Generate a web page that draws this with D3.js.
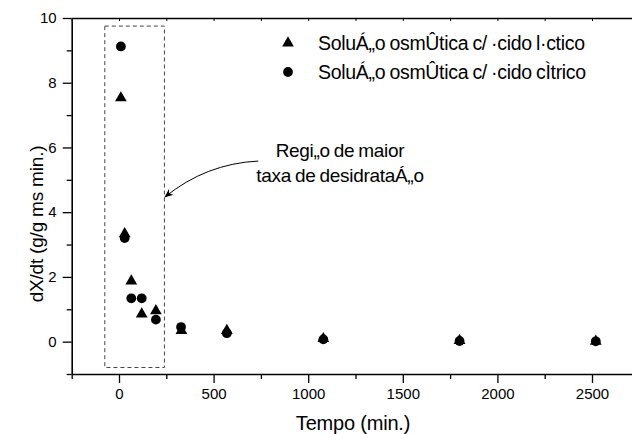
<!DOCTYPE html>
<meta charset="utf-8">
<script src="https://d3js.org/d3.v7.min.js"></script>
<style>
  body { margin: 0; background: #fff; }
  text { font-family: "Liberation Sans", Arial, sans-serif; fill: #000; }
</style>
<div id="my_dataviz"></div>
<script>

// data
var tempoLactico = [10, 30, 65, 120, 195, 330, 570, 1080, 1800, 2520];
var valLactico   = [7.53, 3.33, 1.87, 0.85, 0.95, 0.34, 0.34, 0.09, 0.03, 0.01];
var tempoCitrico = [10, 30, 65, 120, 195, 328, 570, 1080, 1800, 2520];
var valCitrico   = [9.12, 3.2, 1.34, 1.34, 0.68, 0.45, 0.26, 0.07, 0.02, 0.01];
var serieNomes   = ["SoluÁ„o osmÛtica c/ ·cido l·ctico", "SoluÁ„o osmÛtica c/ ·cido cÌtrico"];
var xTicks = [0, 500, 1000, 1500, 2000, 2500];
var yTicks = [0, 2, 4, 6, 8, 10];
var regiao = [-75, 240, -0.8, 9.75];   // x0, x1, y0, y1 of the dashed box
var notaLinhas = ["Regi„o de maior", "taxa de desidrataÁ„o"];

var W = 632, H = 434;
var mLeft = 71.7, mTop = 18, mBottom = 374;

var svg = d3.select("#my_dataviz")
  .append("svg")
    .attr("width", W)
    .attr("height", H);

var x = d3.scaleLinear().domain([-250, 2750]).range([mLeft, mLeft + 3000 * 0.1892]);
var y = d3.scaleLinear().domain([-1, 10]).range([mBottom, mTop]);

// bottom axis: major + minor ticks
svg.append("g")
  .attr("transform", "translate(0," + mBottom + ")")
  .call(d3.axisBottom(x).tickValues(d3.range(-250, 2751, 250).filter(function(d){ return d % 500 != 0; }))
    .tickSize(5).tickFormat(""))
  .call(function(g){ g.select(".domain").remove(); g.selectAll("line").attr("stroke-width", 1.3); });
svg.append("g")
  .attr("transform", "translate(0," + mBottom + ")")
  .call(d3.axisBottom(x).tickValues(xTicks).tickSize(9).tickSizeOuter(0).tickPadding(5).tickFormat(d3.format("d")))
  .style("font", "15px 'Liberation Sans'")
  .call(function(g){ g.select(".domain").attr("stroke-width", 1.6); g.selectAll("line").attr("stroke-width", 1.3); });

// top axis, small inward ticks
svg.append("g")
  .attr("transform", "translate(0," + mTop + ")")
  .call(d3.axisTop(x).tickValues(d3.range(-250, 2751, 250)).tickSize(-3).tickSizeOuter(0).tickFormat(""))
  .call(function(g){ g.select(".domain").attr("stroke-width", 1.6); });

// left axis
svg.append("g")
  .attr("transform", "translate(" + mLeft + ",0)")
  .call(d3.axisLeft(y).tickValues([-1, 1, 3, 5, 7, 9]).tickSize(5).tickFormat(""))
  .call(function(g){ g.select(".domain").remove(); g.selectAll("line").attr("stroke-width", 1.3); });
svg.append("g")
  .attr("transform", "translate(" + mLeft + ",0)")
  .call(d3.axisLeft(y).tickValues(yTicks).tickSize(9).tickSizeOuter(0).tickPadding(6))
  .style("font", "15px 'Liberation Sans'")
  .call(function(g){ g.select(".domain").attr("stroke-width", 1.6); g.selectAll("line").attr("stroke-width", 1.3); });

// axis titles
svg.append("text")
  .attr("x", 353).attr("y", 430)
  .style("text-anchor", "middle")
  .style("font-size", "20px")
  .style("letter-spacing", "-0.2px")
  .text("Tempo (min.)");

svg.append("text")
  .attr("transform", "translate(43," + 224 + ") rotate(-90)")
  .style("text-anchor", "middle")
  .style("font-size", "19px")
  .style("letter-spacing", "-0.2px")
  .text("dX/dt (g/g ms min.)");

// dashed region box
svg.append("rect")
  .attr("x", x(regiao[0]))
  .attr("y", y(regiao[3]))
  .attr("width", x(regiao[1]) - x(regiao[0]))
  .attr("height", y(regiao[2]) - y(regiao[3]))
  .attr("fill", "none")
  .attr("stroke", "#444")
  .attr("stroke-width", 1)
  .style("stroke-dasharray", ("4, 3"));

// annotation + curved arrow
svg.append("defs").append("marker")
  .attr("id", "arrow")
  .attr("viewBox", "0 0 10 10")
  .attr("refX", 9).attr("refY", 5)
  .attr("markerWidth", 9).attr("markerHeight", 9)
  .attr("markerUnits", "userSpaceOnUse")
  .attr("orient", "auto")
  .append("path").attr("d", "M0,1 L10,5 L0,9 L3,5 Z").attr("fill", "#000");

var a0 = [x(736), y(5.58)], a1 = [x(243), y(4.47)];
svg.append("path")
  .attr("d", "M" + a0[0] + "," + a0[1] + " Q" + (x(460)) + "," + y(5.5) + " " + a1[0] + "," + a1[1])
  .attr("fill", "none")
  .attr("stroke", "#000")
  .attr("stroke-width", 1)
  .attr("marker-end", "url(#arrow)");

svg.selectAll("notaLinhas")
  .data(notaLinhas)
  .enter()
  .append("text")
    .attr("x", 340)
    .attr("y", function(d, i) { return 157 + i * 25; })
    .style("text-anchor", "middle")
    .style("font-size", "19px")
    .style("letter-spacing", "-0.3px")
    .style("word-spacing", "-1px")
    .text(function(d) { return d; });

// markers
var symTri = d3.symbol().type(d3.symbolTriangle).size(60);
var symCirc = d3.symbol().type(d3.symbolCircle).size(75);

svg.selectAll("lactico")
  .data(tempoLactico)
  .enter()
  .append("path")
    .attr("d", symTri)
    .attr("fill", "#000")
    .attr("transform", function(d, i) { return "translate(" + x(d) + "," + y(valLactico[i]) + ")"; });

svg.selectAll("citrico")
  .data(tempoCitrico)
  .enter()
  .append("path")
    .attr("d", symCirc)
    .attr("fill", "#000")
    .attr("transform", function(d, i) { return "translate(" + x(d) + "," + y(valCitrico[i]) + ")"; });

// legend
var legY = [43, 72];
svg.append("path").attr("d", symTri).attr("fill", "#000").attr("transform", "translate(288," + legY[0] + ")");
svg.append("path").attr("d", symCirc).attr("fill", "#000").attr("transform", "translate(288," + legY[1] + ")");
svg.selectAll("legenda")
  .data(serieNomes)
  .enter()
  .append("text")
    .attr("x", 318)
    .attr("y", function(d, i) { return legY[i] + 7; })
    .style("font-size", "19.5px")
    .style("letter-spacing", "-0.3px")
    .style("word-spacing", "-1px")
    .text(function(d) { return d; });

</script>
